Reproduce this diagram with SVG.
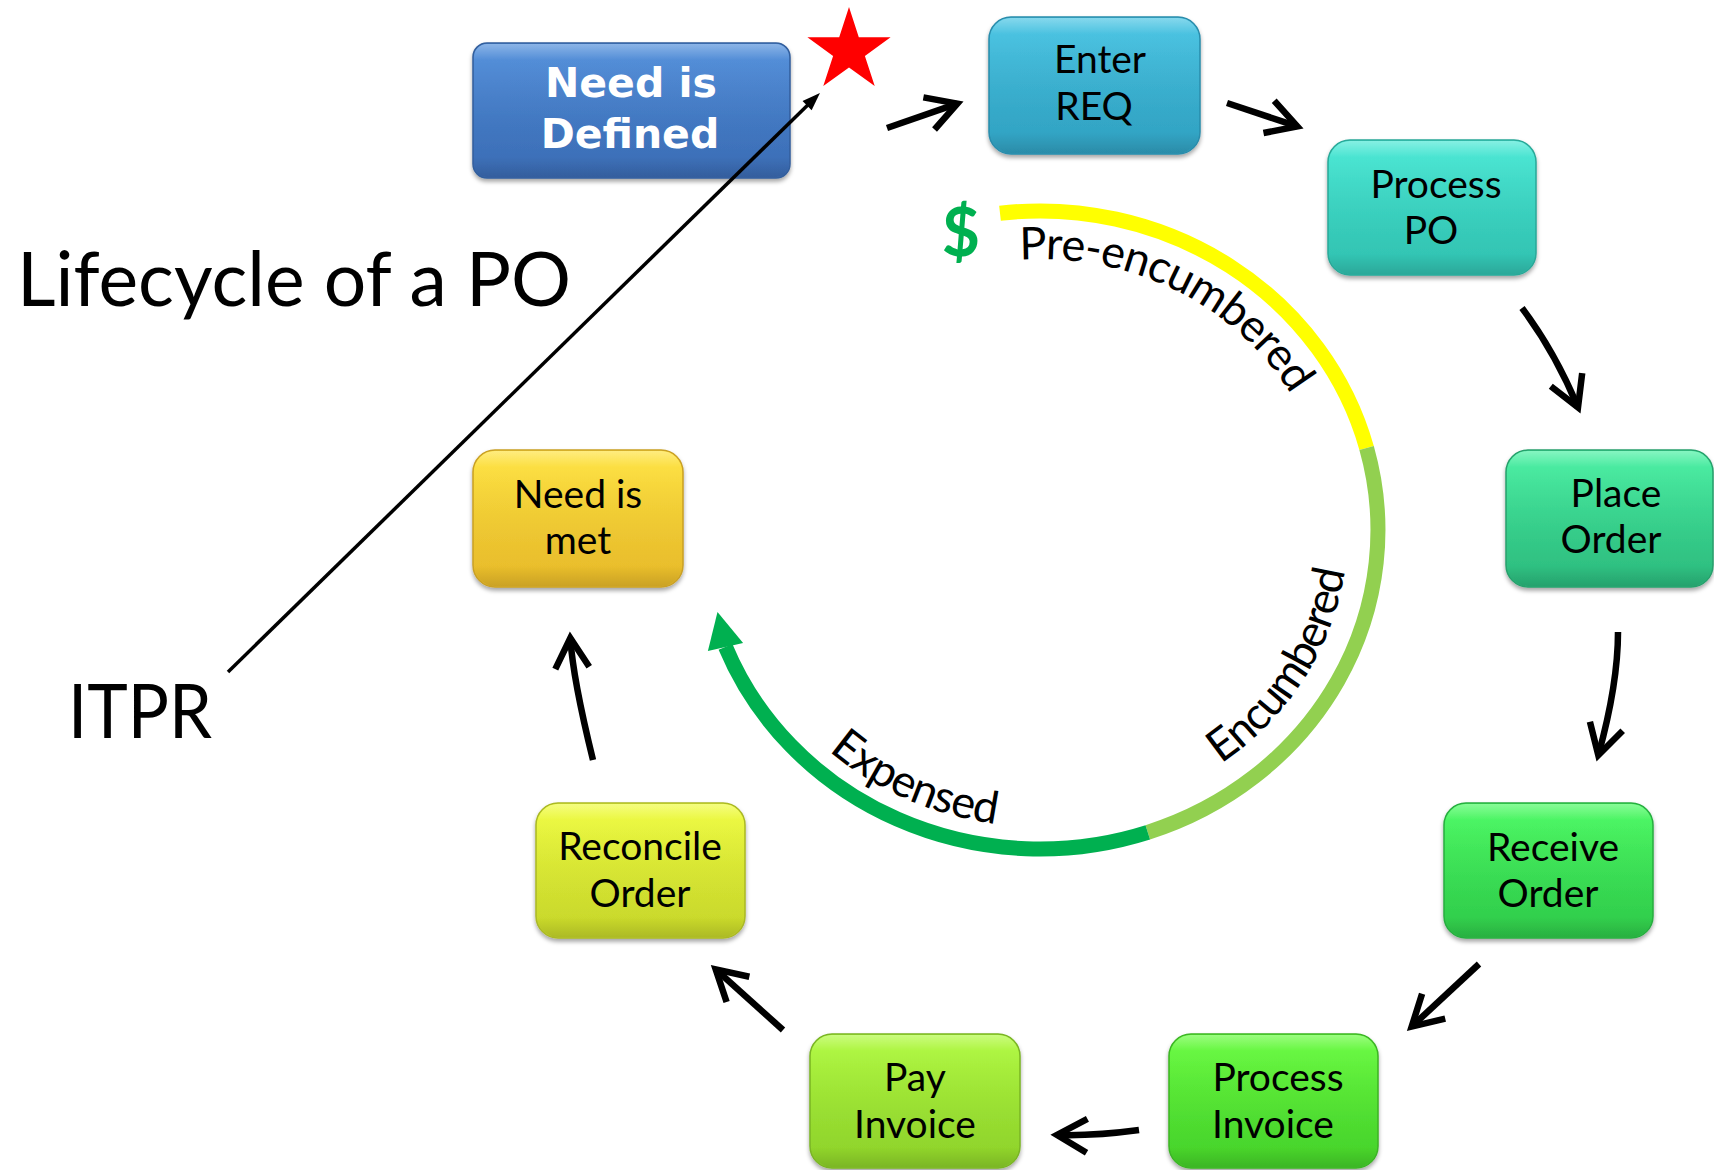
<svg xmlns="http://www.w3.org/2000/svg" width="1714" height="1170" viewBox="0 0 1714 1170">
<style>
  .lbl { font-family: Lato, "Liberation Sans", sans-serif; font-size: 39px; fill: #000; text-anchor: middle; }
  .big { font-family: Lato, "Liberation Sans", sans-serif; font-size: 75px; fill: #000; }
  .ring-lbl { font-family: Lato, "Liberation Sans", sans-serif; font-size: 45px; fill: #000; }
  .box { stroke-width: 1.5; filter: url(#sh); }
  .gloss { fill: url(#gloss); stroke: none; }
  .conn { fill: none; stroke: #000; stroke-width: 6.5; stroke-linecap: butt; marker-end: url(#chev); }
  .ring { fill: none; stroke-width: 15; stroke-linecap: butt; }
</style>
<defs>
  <filter id="sh" x="-10%" y="-10%" width="120%" height="130%">
    <feDropShadow dx="0" dy="3" stdDeviation="2" flood-color="#000" flood-opacity="0.35"/>
  </filter>
  <linearGradient id="gloss" x1="0" y1="0" x2="0" y2="1">
    <stop offset="0" stop-color="#fff" stop-opacity="0.35"/>
    <stop offset="0.12" stop-color="#fff" stop-opacity="0.05"/>
    <stop offset="0.85" stop-color="#000" stop-opacity="0"/>
    <stop offset="1" stop-color="#000" stop-opacity="0.12"/>
  </linearGradient>
  <linearGradient id="gBlue" x1="0" y1="0" x2="0" y2="1"><stop offset="0" stop-color="#4d8cda"/><stop offset="1" stop-color="#3a6bb3"/></linearGradient>
  <linearGradient id="gEnter" x1="0" y1="0" x2="0" y2="1"><stop offset="0" stop-color="#44c3e3"/><stop offset="1" stop-color="#2f9fbf"/></linearGradient>
  <linearGradient id="gPO" x1="0" y1="0" x2="0" y2="1"><stop offset="0" stop-color="#44e8d4"/><stop offset="1" stop-color="#30bfae"/></linearGradient>
  <linearGradient id="gPlace" x1="0" y1="0" x2="0" y2="1"><stop offset="0" stop-color="#44f0a0"/><stop offset="1" stop-color="#2bb87c"/></linearGradient>
  <linearGradient id="gRecv" x1="0" y1="0" x2="0" y2="1"><stop offset="0" stop-color="#46fa5e"/><stop offset="1" stop-color="#2ec84a"/></linearGradient>
  <linearGradient id="gPInv" x1="0" y1="0" x2="0" y2="1"><stop offset="0" stop-color="#64fc3a"/><stop offset="1" stop-color="#44cf2a"/></linearGradient>
  <linearGradient id="gPay" x1="0" y1="0" x2="0" y2="1"><stop offset="0" stop-color="#aefa3a"/><stop offset="1" stop-color="#8ccf2a"/></linearGradient>
  <linearGradient id="gRec" x1="0" y1="0" x2="0" y2="1"><stop offset="0" stop-color="#effc3a"/><stop offset="1" stop-color="#c4d42a"/></linearGradient>
  <linearGradient id="gMet" x1="0" y1="0" x2="0" y2="1"><stop offset="0" stop-color="#ffe23a"/><stop offset="1" stop-color="#e6b82a"/></linearGradient>
  <marker id="chev" markerUnits="userSpaceOnUse" markerWidth="60" markerHeight="60" refX="0" refY="0" orient="auto" overflow="visible">
    <path d="M -30,-17 L 0,0 L -30,17" fill="none" stroke="#000" stroke-width="6.5" stroke-linejoin="miter" stroke-miterlimit="10"/>
  </marker>
  <marker id="tri" markerUnits="userSpaceOnUse" markerWidth="30" markerHeight="30" refX="0" refY="0" orient="auto" overflow="visible">
    <path d="M -1,-6.5 L 17,0 L -1,6.5 Z" fill="#000"/>
  </marker>
  <path id="prePath" d="M 1019.8,259.7 A 290 271 0 0 1 1293.6,398.6"/>
  <path id="encPath" d="M 1221.0,763.8 A 308 289 0 0 0 1345.0,570.2"/>
  <path id="expPath" d="M 828.6,750.7 A 316 297 0 0 0 996.0,824.1"/>
</defs>

<rect x="0" y="0" width="1714" height="1170" fill="#fff"/>

<!-- Budget ring -->
<g id="budget-ring">
  <path class="ring" stroke="#ffff00" d="M 1000.0,213.2 A 338 319 0 0 1 1366.6,448.0"/>
  <path class="ring" stroke="#92d050" d="M 1366.6,448.0 A 338 319 0 0 1 1147.8,832.3"/>
  <path class="ring" stroke="#00b050" d="M 1147.8,832.3 A 338 319 0 0 1 725.5,646.9"/>
  <polygon fill="#00b050" points="717.5,611.9 743.1,643.0 707.9,651.0"/>
  <text class="ring-lbl"><textPath href="#prePath" textLength="318">Pre-encumbered</textPath></text>
  <text class="ring-lbl"><textPath href="#encPath" textLength="236">Encumbered</textPath></text>
  <text class="ring-lbl"><textPath href="#expPath" textLength="185">Expensed</textPath></text>
  <text x="961" y="256" font-family="Lato, 'Liberation Sans', sans-serif" font-weight="bold" font-size="66" fill="#00b050" text-anchor="middle">$</text>
</g>

<!-- Titles -->
<text class="big" x="17" y="306" textLength="554" lengthAdjust="spacingAndGlyphs">Lifecycle of a PO</text>
<text class="big" x="68" y="738" textLength="144" lengthAdjust="spacingAndGlyphs">ITPR</text>

<!-- Star -->
<polygon id="star" fill="#ff0000" points="849,7 858.8,37.2 890.6,37.2 864.9,55.9 874.7,86.1 849,67.4 823.3,86.1 833.1,55.9 807.4,37.2 839.2,37.2"/>

<!-- Nodes -->
<g id="need-defined">
  <rect class="box" x="473" y="43" width="317" height="135" rx="14" fill="url(#gBlue)" stroke="#335e9c"/>
  <rect class="gloss" x="474" y="44" width="315" height="133" rx="13"/>
  <text font-family="'DejaVu Sans', Verdana, sans-serif" font-weight="bold" font-size="41" fill="#fff" text-anchor="middle">
    <tspan x="631" y="97">Need is</tspan><tspan x="630" y="148">Defined</tspan>
  </text>
</g>
<g id="enter-req">
  <rect class="box" x="989" y="17" width="211" height="137" rx="22" fill="url(#gEnter)" stroke="#2a8cab"/>
  <rect class="gloss" x="990" y="18" width="209" height="135" rx="21"/>
  <text class="lbl"><tspan x="1100" y="73">Enter</tspan><tspan x="1094" y="120">REQ</tspan></text>
</g>
<g id="process-po">
  <rect class="box" x="1328" y="140" width="208" height="135" rx="22" fill="url(#gPO)" stroke="#2aa898"/>
  <rect class="gloss" x="1329" y="141" width="206" height="133" rx="21"/>
  <text class="lbl"><tspan x="1436" y="198">Process</tspan><tspan x="1431" y="244">PO</tspan></text>
</g>
<g id="place-order">
  <rect class="box" x="1506" y="450" width="207" height="137" rx="22" fill="url(#gPlace)" stroke="#27a06c"/>
  <rect class="gloss" x="1507" y="451" width="205" height="135" rx="21"/>
  <text class="lbl"><tspan x="1616" y="507">Place</tspan><tspan x="1611" y="553">Order</tspan></text>
</g>
<g id="receive-order">
  <rect class="box" x="1444" y="803" width="209" height="135" rx="22" fill="url(#gRecv)" stroke="#28ad40"/>
  <rect class="gloss" x="1445" y="804" width="207" height="133" rx="21"/>
  <text class="lbl"><tspan x="1553" y="861">Receive</tspan><tspan x="1548" y="907">Order</tspan></text>
</g>
<g id="process-invoice">
  <rect class="box" x="1169" y="1034" width="209" height="134" rx="22" fill="url(#gPInv)" stroke="#3cb425"/>
  <rect class="gloss" x="1170" y="1035" width="207" height="132" rx="21"/>
  <text class="lbl"><tspan x="1278" y="1091">Process</tspan><tspan x="1273" y="1138">Invoice</tspan></text>
</g>
<g id="pay-invoice">
  <rect class="box" x="810" y="1034" width="210" height="134" rx="22" fill="url(#gPay)" stroke="#7ab425"/>
  <rect class="gloss" x="811" y="1035" width="208" height="132" rx="21"/>
  <text class="lbl"><tspan x="915" y="1091">Pay</tspan><tspan x="915" y="1138">Invoice</tspan></text>
</g>
<g id="reconcile-order">
  <rect class="box" x="536" y="803" width="209" height="135" rx="22" fill="url(#gRec)" stroke="#aab825"/>
  <rect class="gloss" x="537" y="804" width="207" height="133" rx="21"/>
  <text class="lbl"><tspan x="640" y="860">Reconcile</tspan><tspan x="640" y="907">Order</tspan></text>
</g>
<g id="need-met">
  <rect class="box" x="473" y="450" width="210" height="137" rx="22" fill="url(#gMet)" stroke="#c9a025"/>
  <rect class="gloss" x="474" y="451" width="208" height="135" rx="21"/>
  <text class="lbl"><tspan x="578" y="508">Need is</tspan><tspan x="578" y="554">met</tspan></text>
</g>

<!-- Connectors -->
<g id="connectors">
  <path id="itpr-line" d="M 228,672 L 807.8,104.9" fill="none" stroke="#000" stroke-width="3.5" marker-end="url(#tri)"/>
  <path class="conn" d="M 887,128 L 957.3,103.6"/>
  <path class="conn" d="M 1227,103 L 1297.3,126.4"/>
  <path class="conn" d="M 1522,308 Q 1555,352 1578,407.4"/>
  <path class="conn" d="M 1618,632 Q 1618,684 1598.3,755.2"/>
  <path class="conn" d="M 1479,964 L 1411.7,1026.6"/>
  <path class="conn" d="M 1139,1130 Q 1095,1136 1057,1135"/>
  <path class="conn" d="M 783,1030 L 715.7,969.3"/>
  <path class="conn" d="M 593,760 Q 573,679 570.3,638"/>
</g>
</svg>
